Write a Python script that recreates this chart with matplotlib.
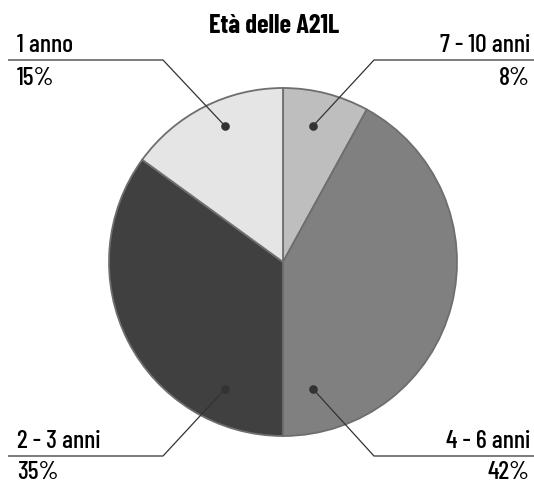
import matplotlib
matplotlib.use("Agg")
import matplotlib.pyplot as plt

title = "Età delle A21L"
labels = ["7 - 10 anni", "4 - 6 anni", "2 - 3 anni", "1 anno"]
values = [8, 42, 35, 15]
colors = ["#bebebe", "#808080", "#404040", "#e5e5e5"]

W, H = 534, 483
fig = plt.figure(figsize=(W / 100, H / 100), dpi=100)
ax = fig.add_axes([0, 0, 1, 1])

cx, cy, r = 283, H - 262, 174
ax.pie(values, colors=colors, startangle=90, counterclock=False,
       center=(cx, cy), radius=r, frame=True,
       wedgeprops=dict(edgecolor="#6e6e6e", linewidth=1.3))
ax.set_xlim(0, W)
ax.set_ylim(0, H)
ax.set_aspect("equal")
ax.axis("off")

fam = ["Barlow Condensed", "DejaVu Sans"]

# annotation layout: (dot, elbow, line end, side, gap to percent baseline)
layout = {
    "7 - 10 anni": ((313, 126), (374, 60), (534, 60), "right", 25),
    "4 - 6 anni": ((313, 389), (374, 456), (534, 456), "right", 23),
    "2 - 3 anni": ((225, 389), (163, 456), (8, 456), "left", 23),
    "1 anno": ((225, 126), (163, 60), (8, 60), "left", 25),
}
fs = 18.5
for lab, val in zip(labels, values):
    (dx, dy), (ex, ey), (lx, ly), side, gap = layout[lab]
    ax.plot([dx, ex, lx], [H - dy, H - ey, H - ly], color="#333333", lw=0.9,
            solid_capstyle="butt")
    ax.plot([dx], [H - dy], "o", color="#333333", ms=5.2)
    tx = 17 if side == "left" else 530
    ax.text(tx, H - (ly - 8), lab, ha=side, va="baseline", fontsize=fs,
            family=fam, fontweight=500)
    ax.text(tx, H - (ly + gap), f"{val}%", ha=side, va="baseline", fontsize=fs,
            family=fam, fontweight=500)

ax.text(274, H - 33, title, ha="center", va="baseline", fontsize=19,
        family=fam, fontweight="bold")

fig.savefig("out.png", dpi=100)
